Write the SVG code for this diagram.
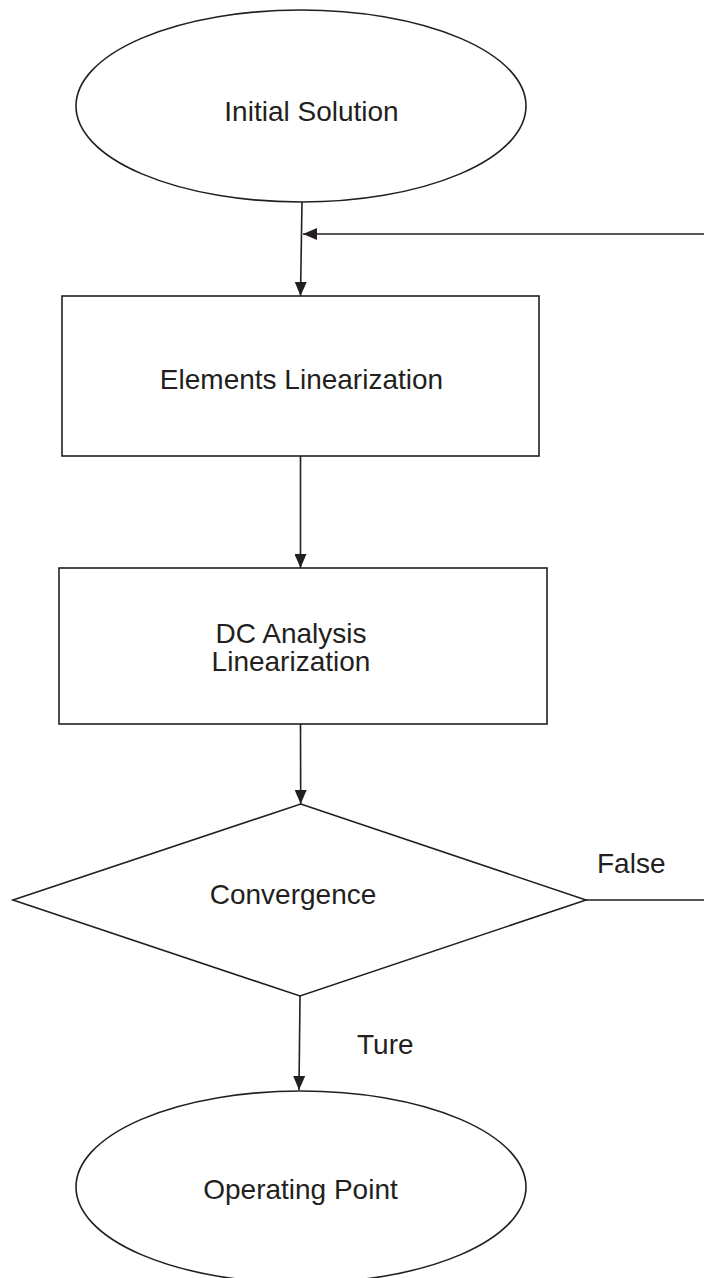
<svg xmlns="http://www.w3.org/2000/svg" width="704" height="1278" viewBox="0 0 704 1278">
<defs>
<style>
.shape{fill:#fff;stroke:#231f20;stroke-width:1.6}
.conn{fill:none;stroke:#231f20;stroke-width:1.6}
.lbl{font-family:"Liberation Sans",Arial,sans-serif;font-size:28px;fill:#231f20}
.mid{text-anchor:middle}
</style>
<marker id="arr" viewBox="0 0 14 12" refX="14" refY="6" markerWidth="14" markerHeight="12" markerUnits="userSpaceOnUse" orient="auto">
<path d="M0,0 L14,6 L0,12 Z" fill="#231f20"/>
</marker>
</defs>
<rect width="704" height="1278" fill="#fff"/>
<g id="connectors">
<path class="conn" d="M302,202 L300.5,296" marker-end="url(#arr)"/>
<path class="conn" d="M300.5,456 L300.5,568" marker-end="url(#arr)"/>
<path class="conn" d="M300.5,724 L300.7,804" marker-end="url(#arr)"/>
<path class="conn" d="M300,996 L299,1090" marker-end="url(#arr)"/>
<path class="conn" d="M586,900 H712 V234 H303" marker-end="url(#arr)"/>
<text class="lbl" x="597" y="873">False</text>
<text class="lbl" x="357" y="1054">Ture</text>
</g>
<g id="initial-solution">
<ellipse class="shape" cx="301" cy="106" rx="225" ry="96"/>
<text class="lbl mid" x="311.5" y="121">Initial Solution</text>
</g>
<g id="elements-linearization">
<rect class="shape" x="62" y="296" width="477" height="160"/>
<text class="lbl mid" x="301.5" y="389">Elements Linearization</text>
</g>
<g id="dc-analysis">
<rect class="shape" x="59" y="568" width="488" height="156"/>
<text class="lbl mid" x="291" y="643">DC Analysis</text>
<text class="lbl mid" x="291" y="671">Linearization</text>
</g>
<g id="convergence">
<polygon class="shape" points="300.7,804 586,900 300,996 13,900"/>
<text class="lbl mid" x="293" y="904">Convergence</text>
</g>
<g id="operating-point">
<ellipse class="shape" cx="301" cy="1187" rx="225" ry="96"/>
<text class="lbl mid" x="300.5" y="1199">Operating Point</text>
</g>
</svg>
